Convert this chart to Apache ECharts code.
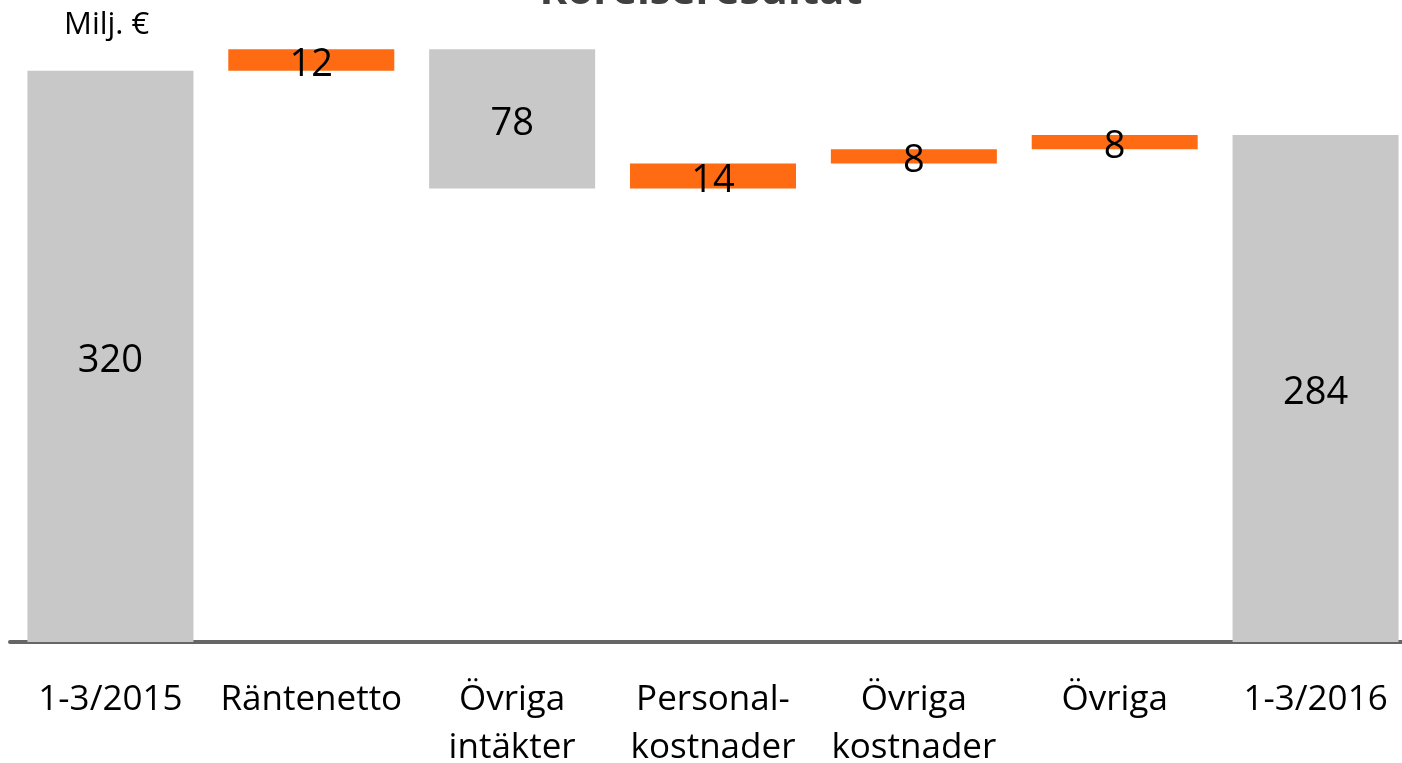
<!DOCTYPE html>
<html>
<head>
<meta charset="utf-8">
<script src="https://cdn.jsdelivr.net/npm/echarts@6/dist/echarts.min.js"></script>
<style>
  html, body { margin: 0; padding: 0; background: #fff; }
  #chart { width: 1402px; height: 763px; }
</style>
</head>
<body>
<div id="chart"></div>
<script>
// kategorier och värden (Milj. €)
const categories = ["1-3/2015", "Räntenetto", "Övriga\nintäkter", "Personal-\nkostnader", "Övriga\nkostnader", "Övriga", "1-3/2016"];
const startValue = 320;
const changes = [12, -78, 14, 8, 8];
const endValue = 284;

// bygg osynlig bas + synlig stapel
const baseData = [0];
const barData = [{ value: startValue, itemStyle: { color: "#c8c8c8" } }];
let level = startValue;
changes.forEach((d) => {
  const next = level + d;
  baseData.push(Math.min(level, next));
  barData.push({
    value: Math.abs(d),
    itemStyle: { color: d >= 0 ? "#ff6b12" : "#c8c8c8" },
  });
  level = next;
});
baseData.push(0);
barData.push({ value: endValue, itemStyle: { color: "#c8c8c8" } });

const chart = echarts.init(document.getElementById("chart"));
const font = "'Open Sans', 'Noto Sans', sans-serif";

chart.setOption({
  animation: false,
  title: {
    text: "Rörelseresultat",
    left: "center",
    top: -34,
    textStyle: { fontSize: 42, fontWeight: "bold", color: "#404040", fontFamily: font },
  },
  graphic: [
    {
      type: "text",
      left: 64,
      top: 10,
      style: { text: "Milj. €", font: "31px " + font, fill: "#000" },
    },
  ],
  grid: {
    left: 10,
    right: -14,
    top: 35,
    bottom: 121,
    containLabel: false,
    outerBoundsMode: "none",
  },
  xAxis: {
    type: "category",
    data: categories,
    axisLine: { lineStyle: { color: "#666", width: 4 } },
    axisTick: { show: false },
    axisLabel: {
      interval: 0,
      margin: 34,
      fontSize: 35,
      lineHeight: 48,
      color: "#000",
      fontFamily: font,
      verticalAlign: "top",
    },
  },
  yAxis: {
    type: "value",
    min: 0,
    max: 340,
    show: false,
    splitLine: { show: false },
  },
  series: [
    {
      type: "bar",
      stack: "wf",
      data: baseData,
      barWidth: 166,
      itemStyle: { color: "transparent" },
      silent: true,
    },
    {
      type: "bar",
      stack: "wf",
      data: barData,
      barWidth: 166,
      label: {
        show: true,
        position: "inside",
        offset: [0, 5],
        fontSize: 38,
        color: "#000",
        fontFamily: font,
      },
    },
  ],
});
</script>
</body>
</html>
